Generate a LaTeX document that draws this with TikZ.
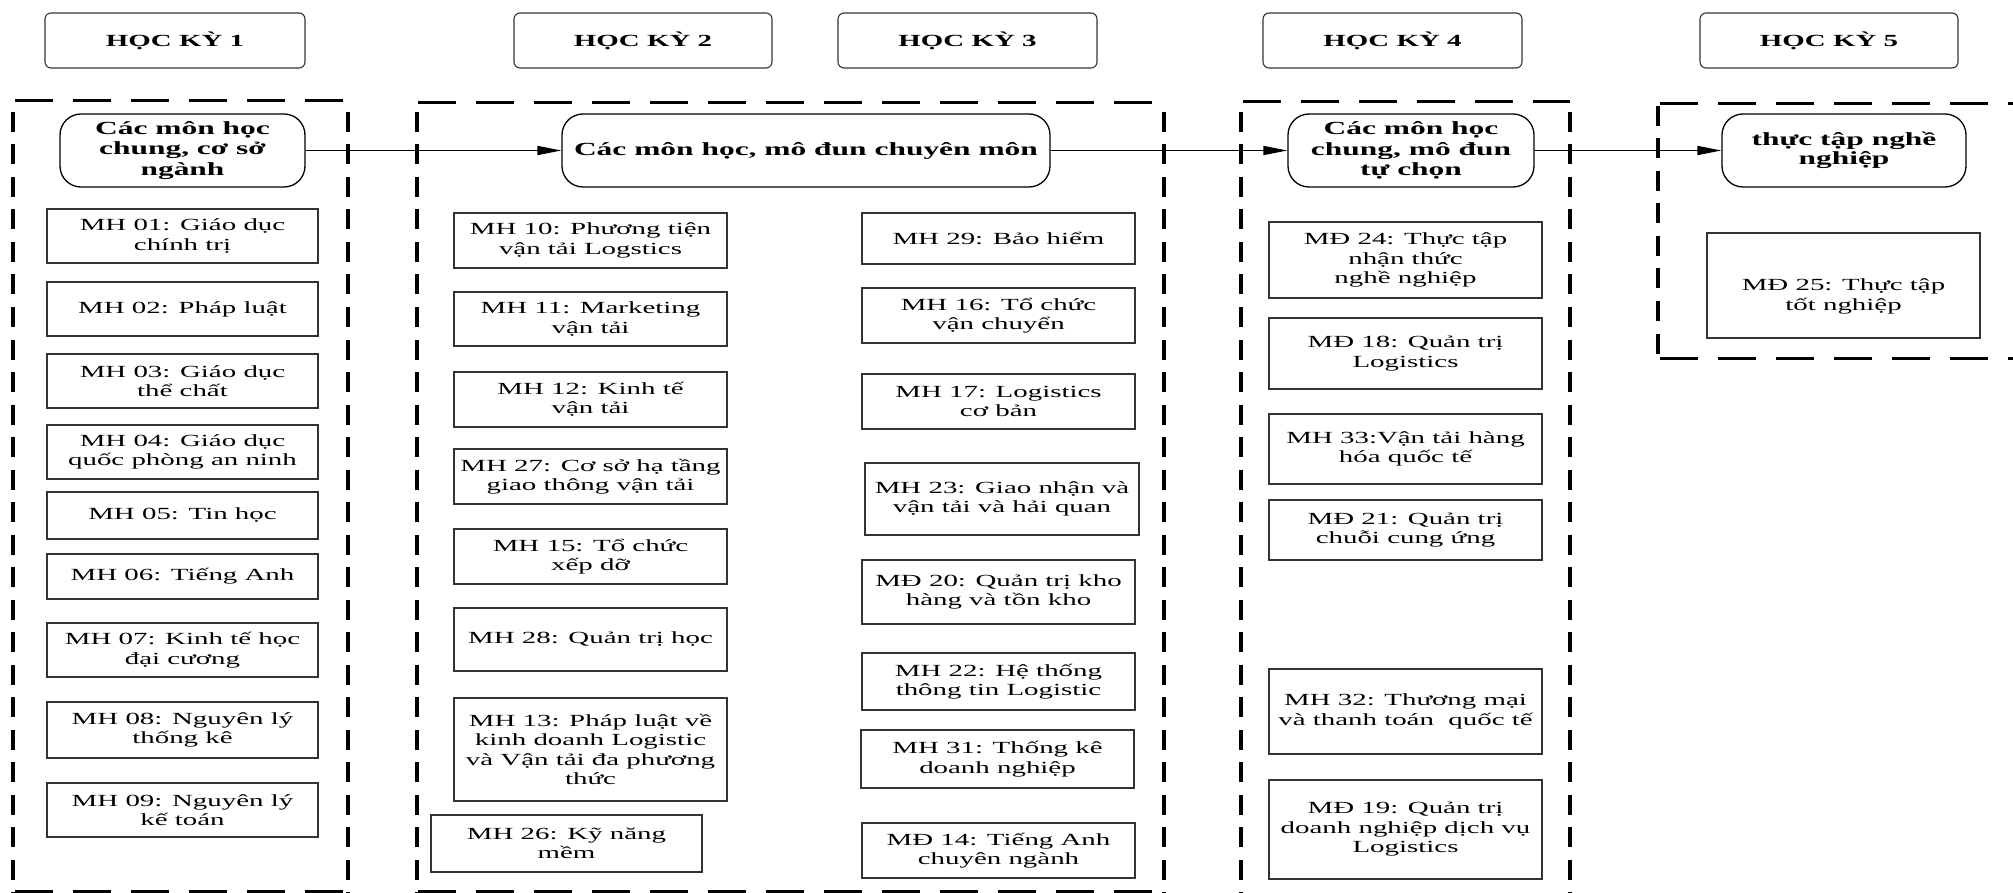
\documentclass[tikz,border=0pt]{standalone}
\usepackage{fontspec}
\setmainfont{Liberation Serif}[FakeStretch=1.7]
\usetikzlibrary{arrows.meta}
\tikzset{
  cbox/.style={draw=black!80, line width=1.1pt, rectangle, align=center, inner xsep=1pt, inner ysep=1pt,
    font=\fontsize{17}{19.5}\selectfont},
  hdr/.style={draw=black!80, line width=1.1pt, rounded corners=6pt, align=center,
    font=\fontsize{17}{20}\selectfont\bfseries},
  grp/.style={draw=black, line width=1.3pt, rounded corners=21pt, align=center, inner xsep=1pt,
    font=\fontsize{18.5}{20.5}\selectfont\bfseries},
  hdash/.style={line width=3pt, dash pattern=on 38pt off 20pt},
  vdash/.style={line width=4pt, dash pattern=on 20pt off 12.5pt},
  arr/.style={line width=1.6pt, -{Triangle[length=24pt,width=9pt]}}
}
\newcommand\cbx[6]{\node[cbox,minimum width={#4-#2},minimum height={#5-#3}] (#1) at ({(#2+#4)/2},{(#3+#5)/2}) {#6};}
\newcommand\hbx[6]{\node[hdr,minimum width={#4-#2},minimum height={#5-#3}] (#1) at ({(#2+#4)/2},{(#3+#5)/2}) {#6};}
\newcommand\gbx[6]{\node[grp,minimum width={#4-#2},minimum height={#5-#3}] (#1) at ({(#2+#4)/2},{(#3+#5)/2}) {#6};}
\begin{document}
\begin{tikzpicture}[x=1pt,y=-1pt]
\useasboundingbox (0,0) rectangle (2013,893);
% dashed group frames
\draw[hdash] (15,101) -- (348,101);
\draw[hdash] (15,891) -- (348,891);
\draw[vdash] (13,112) -- (13,893);
\draw[vdash] (348,112) -- (348,893);
\draw[hdash] (418,103) -- (1164,103);
\draw[hdash] (418,891) -- (1164,891);
\draw[vdash] (417,112) -- (417,893);
\draw[vdash] (1164,112) -- (1164,893);
\draw[hdash] (1243,102) -- (1570,102);
\draw[vdash] (1241,112) -- (1241,893);
\draw[vdash] (1570,112) -- (1570,893);
\draw[hdash] (1660,104) -- (2013,104);
\draw[hdash] (1660,358) -- (2013,358);
\draw[vdash] (1658,106) -- (1658,358);
% headers
\hbx{hk1}{45}{13}{305}{68}{HỌC KỲ 1}
\hbx{hk2}{514}{13}{772}{68}{HỌC KỲ 2}
\hbx{hk3}{838}{13}{1097}{68}{HỌC KỲ 3}
\hbx{hk4}{1263}{13}{1522}{68}{HỌC KỲ 4}
\hbx{hk5}{1700}{13}{1958}{68}{HỌC KỲ 5}
% group nodes
\gbx{g1}{60}{114}{305}{187}{Các môn học\\chung, cơ sở\\ngành}
\gbx{g2}{562}{114}{1050}{187}{Các môn học, mô đun chuyên môn}
\gbx{g4}{1288}{114}{1534}{187}{Các môn học\\chung, mô đun\\tự chọn}
\gbx{g5}{1722}{114}{1966}{187}{\raisebox{-5pt}{\begin{tabular}{@{}c@{}}thực tập nghề\\[-1.5pt]nghiệp\end{tabular}}}
\draw[arr] (g1.east) -- (g2.west);
\draw[arr] (g2.east) -- (g4.west);
\draw[arr] (g4.east) -- (g5.west);
% column 1
\cbx{mh01}{47}{209}{318}{263}{MH 01: Giáo dục\\chính trị}
\cbx{mh02}{47}{282}{318}{336}{MH 02: Pháp luật}
\cbx{mh03}{47}{354}{318}{408}{MH 03: Giáo dục\\thể chất}
\cbx{mh04}{47}{425}{318}{479}{MH 04: Giáo dục\\quốc phòng an ninh}
\cbx{mh05}{47}{492}{318}{539}{MH 05: Tin học}
\cbx{mh06}{47}{554}{318}{599}{MH 06: Tiếng Anh}
\cbx{mh07}{47}{623}{318}{677}{MH 07: Kinh tế học\\đại cương}
\cbx{mh08}{47}{702}{318}{758}{MH 08: Nguyên lý\\thống kê}
\cbx{mh09}{47}{783}{318}{837}{MH 09: Nguyên lý\\kế toán}
% column 2 left
\cbx{mh10}{454}{213}{727}{268}{MH 10: Phương tiện\\vận tải Logstics}
\cbx{mh11}{454}{292}{727}{346}{MH 11: Marketing\\vận tải}
\cbx{mh12}{454}{372}{727}{427}{MH 12: Kinh tế\\vận tải}
\cbx{mh27}{454}{449}{727}{504}{MH 27: Cơ sở hạ tầng\\giao thông vận tải}
\cbx{mh15}{454}{529}{727}{584}{MH 15: Tổ chức\\xếp dỡ}
\cbx{mh28}{454}{608}{727}{671}{MH 28: Quản trị học}
\cbx{mh13}{454}{698}{727}{801}{MH 13: Pháp luật về\\kinh doanh Logistic\\và Vận tải đa phương\\thức}
\cbx{mh26}{431}{815}{702}{872}{MH 26: Kỹ năng\\mềm}
% column 2 right
\cbx{mh29}{862}{213}{1135}{264}{MH 29: Bảo hiểm}
\cbx{mh16}{862}{288}{1135}{343}{MH 16: Tổ chức\\vận chuyển}
\cbx{mh17}{862}{374}{1135}{429}{MH 17: Logistics\\cơ bản}
\cbx{mh23}{865}{463}{1139}{535}{MH 23: Giao nhận và\\vận tải và hải quan}
\cbx{md20}{862}{560}{1135}{624}{MĐ 20: Quản trị kho\\hàng và tồn kho}
\cbx{mh22}{862}{653}{1135}{710}{MH 22: Hệ thống\\thông tin Logistic}
\cbx{mh31}{861}{730}{1134}{788}{MH 31: Thống kê\\doanh nghiệp}
\cbx{md14}{862}{823}{1135}{878}{MĐ 14: Tiếng Anh\\chuyên ngành}
% column 4
\cbx{md24}{1269}{222}{1542}{298}{MĐ 24: Thực tập\\nhận thức\\nghề nghiệp}
\cbx{md18}{1269}{318}{1542}{389}{MĐ 18: Quản trị\\Logistics}
\cbx{mh33}{1269}{414}{1542}{484}{MH 33:Vận tải hàng\\hóa quốc tế}
\cbx{md21}{1269}{500}{1542}{560}{MĐ 21: Quản trị\\chuỗi cung ứng}
\cbx{mh32}{1269}{669}{1542}{754}{MH 32: Thương mại\\và thanh toán\ \ quốc tế}
\cbx{md19}{1269}{780}{1542}{879}{MĐ 19: Quản trị\\doanh nghiệp dịch vụ\\Logistics}
% column 5
\cbx{md25}{1707}{233}{1980}{338}{}
\node[font=\fontsize{17}{19.5}\selectfont, align=center] (md25t) at ([yshift=-11pt]md25.center) {MĐ 25: Thực tập\\tốt nghiệp};
\end{tikzpicture}
\end{document}
